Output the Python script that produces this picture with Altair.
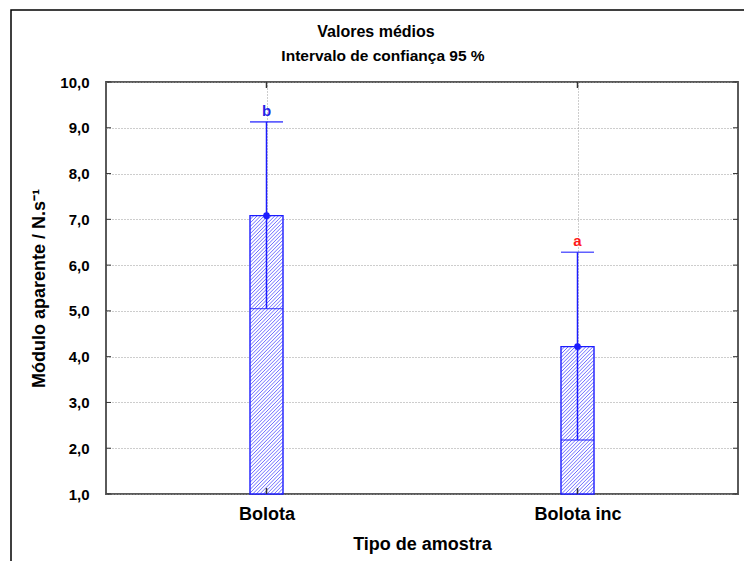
import altair as alt
import pandas as pd

# Sample types and their mean apparent modulus with 95 % confidence limits
CATEGORIES = ["Bolota", "Bolota inc"]
POSITIONS = [0.5, 1.5]
MEANS = [7.08, 4.22]
CI_LOW = [5.05, 2.18]
CI_HIGH = [9.13, 6.28]
LETTERS = ["b", "a"]
LETTER_COLORS = ["#2323e6", "#ff1a1a"]
Y_TICKS = [1.0, 2.0, 3.0, 4.0, 5.0, 6.0, 7.0, 8.0, 9.0, 10.0]
TITLE = "Valores médios"
SUBTITLE = "Intervalo de confiança 95 %"

# Plot geometry
W, H = 632, 412
X_MIN, X_MAX = 0.0, 2.0
Y_MIN, Y_MAX = 1.0, 10.0
BAR_PX = 33
HATCH_STEP = 3.6
BLUE = "#1c1cff"
FONT = "Liberation Sans"

px_per_x = W / (X_MAX - X_MIN)
px_per_y = H / (Y_MAX - Y_MIN)

summary = pd.DataFrame({
    "cat": CATEGORIES, "pos": POSITIONS, "mean": MEANS,
    "lo": CI_LOW, "hi": CI_HIGH, "letter": LETTERS, "lcolor": LETTER_COLORS,
})

# 45-degree hatch segments clipped to each bar rectangle
hatch_rows = []
for pos, mean in zip(POSITIONS, MEANS):
    hw = BAR_PX / 2
    h = (mean - Y_MIN) * px_per_y
    c = -h - hw
    while c < hw:
        lo = max(-hw, c)
        hi = min(hw, c + h)
        if hi > lo:
            hatch_rows.append({
                "x": pos + lo / px_per_x, "y": Y_MIN + (lo - c) / px_per_y,
                "x2": pos + hi / px_per_x, "y2": Y_MIN + (hi - c) / px_per_y,
            })
        c += HATCH_STEP
hatch = pd.DataFrame(hatch_rows)

yticks_df = pd.DataFrame({"v": Y_TICKS})
one_row = pd.DataFrame({"k": [0]})

xs = alt.Scale(domain=[X_MIN, X_MAX], nice=False, zero=False)
ys = alt.Scale(domain=[Y_MIN, Y_MAX], nice=False, zero=False)

label_expr_x = "[" + ",".join(f"'{c}'" for c in CATEGORIES) + "][floor(datum.value)]"

x_axis = alt.Axis(
    values=POSITIONS, labelExpr=label_expr_x, title="Tipo de amostra",
    grid=True, gridDash=[1, 2], gridColor="#9a9a9a", gridWidth=1,
    ticks=False, domain=False, labelFont=FONT, labelFontSize=18,
    labelFontWeight="bold", labelColor="black", labelPadding=11,
    titleFont=FONT, titleFontSize=18, titleFontWeight="bold",
    titleColor="black", titlePadding=12,
)
y_axis = alt.Axis(
    values=Y_TICKS,
    labelExpr="replace(format(datum.value, '.1f'), '.', ',')",
    title="Módulo aparente / N.s⁻¹",
    grid=True, gridDash=[1, 2], gridColor="#9a9a9a", gridWidth=1,
    ticks=False, domain=False, labelFont=FONT, labelFontSize=15,
    labelFontWeight="bold", labelColor="black", labelPadding=17,
    titleFont=FONT, titleFontSize=18, titleFontWeight="bold",
    titleColor="black", titlePadding=11,
)

base = alt.Chart(summary)

bars_fill = base.mark_bar(size=BAR_PX, fill="white", stroke=None).encode(
    x=alt.X("pos:Q", scale=xs, axis=x_axis),
    y=alt.Y("mean:Q", scale=ys, axis=y_axis),
    y2=alt.datum(Y_MIN),
)

hatch_lines = alt.Chart(hatch).mark_rule(color="#4848ff", strokeWidth=0.8).encode(
    x=alt.X("x:Q", scale=xs),
    x2="x2:Q",
    y=alt.Y("y:Q", scale=ys),
    y2="y2:Q",
)

bars_outline = base.mark_bar(size=BAR_PX, fillOpacity=0, stroke=BLUE, strokeWidth=1.4).encode(
    x=alt.X("pos:Q", scale=xs),
    y=alt.Y("mean:Q", scale=ys),
    y2=alt.datum(Y_MIN),
)

err_rule = base.mark_rule(color=BLUE, strokeWidth=1.5).encode(
    x=alt.X("pos:Q", scale=xs),
    y=alt.Y("lo:Q", scale=ys),
    y2="hi:Q",
)

low_tick = base.mark_tick(orient="horizontal", size=BAR_PX, thickness=1.4, color=BLUE).encode(
    x=alt.X("pos:Q", scale=xs),
    y=alt.Y("lo:Q", scale=ys),
)

cap_tick = base.mark_tick(orient="horizontal", size=BAR_PX, thickness=1.6, color=BLUE).encode(
    x=alt.X("pos:Q", scale=xs),
    y=alt.Y("hi:Q", scale=ys),
)

mean_pt = base.mark_circle(size=45, color=BLUE, opacity=1).encode(
    x=alt.X("pos:Q", scale=xs),
    y=alt.Y("mean:Q", scale=ys),
)

letters = base.mark_text(
    font=FONT, fontSize=15, fontWeight="bold", baseline="alphabetic", dy=-6
).encode(
    x=alt.X("pos:Q", scale=xs),
    y=alt.Y("hi:Q", scale=ys),
    text="letter:N",
    color=alt.Color("lcolor:N", scale=None),
)

# Inward tick marks on all four sides of the plot frame
tick_col = "#333333"
left_ticks = alt.Chart(yticks_df).mark_rule(color=tick_col, strokeWidth=1).encode(
    x=alt.value(0), x2=alt.value(5), y=alt.Y("v:Q", scale=ys),
)
right_ticks = alt.Chart(yticks_df).mark_rule(color=tick_col, strokeWidth=1).encode(
    x=alt.value(W - 5), x2=alt.value(W), y=alt.Y("v:Q", scale=ys),
)
top_ticks = base.mark_rule(color=tick_col, strokeWidth=1.5).encode(
    x=alt.X("pos:Q", scale=xs), y=alt.value(0), y2=alt.value(6),
)
bottom_ticks = base.mark_rule(color=tick_col, strokeWidth=1.5).encode(
    x=alt.X("pos:Q", scale=xs), y=alt.value(H - 6), y2=alt.value(H),
)

# Title lines, centred over the whole figure
title_main = alt.Chart(one_row).mark_text(
    font=FONT, fontSize=16, fontWeight="bold", color="black",
    align="center", baseline="middle",
).encode(x=alt.value(W / 2 - 46), y=alt.value(-50), text=alt.value(TITLE))
title_sub = alt.Chart(one_row).mark_text(
    font=FONT, fontSize=15.5, fontWeight="bold", color="black",
    align="center", baseline="middle",
).encode(x=alt.value(W / 2 - 39), y=alt.value(-26), text=alt.value(SUBTITLE))

# Outer figure frame
frame = alt.Chart(one_row).mark_rect(
    fill=None, stroke="black", strokeWidth=1.5
).encode(
    x=alt.value(-95), x2=alt.value(W + 20), y=alt.value(-72), y2=alt.value(H + 90),
)

chart = alt.layer(
    bars_fill, hatch_lines, bars_outline, err_rule, low_tick, cap_tick,
    mean_pt, letters, left_ticks, right_ticks, top_ticks, bottom_ticks,
    title_main, title_sub, frame,
).properties(
    width=W, height=H,
    autosize=alt.AutoSizeParams(type="none"),
    padding={"left": 106, "top": 82, "right": 6, "bottom": 67},
).configure(
    background="white",
    view=alt.ViewConfig(stroke="#5a5a5a", strokeWidth=2),
)

chart.save("out.html", embed_options={"renderer": "svg", "actions": False})
